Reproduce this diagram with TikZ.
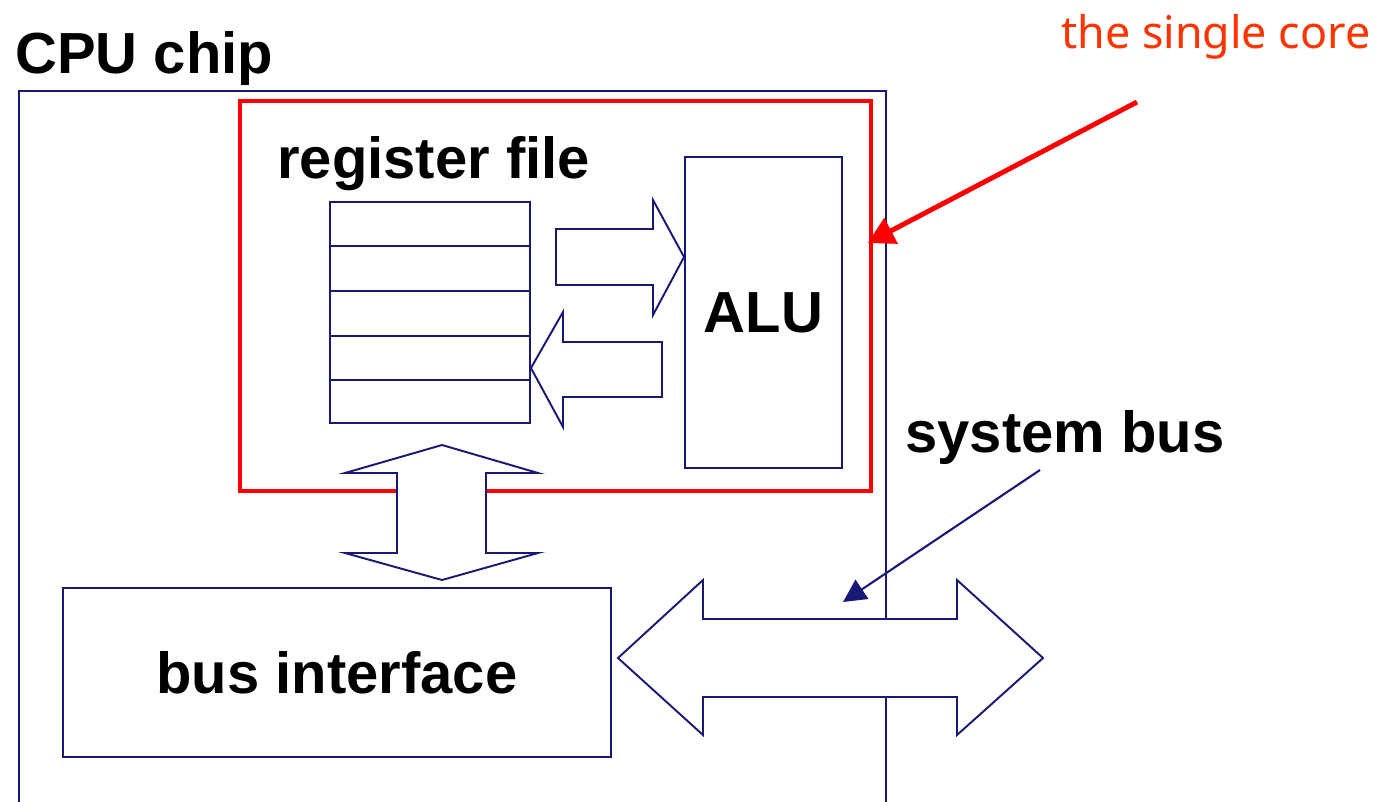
\documentclass[tikz,border=0pt]{standalone}
\usepackage{fontspec}
\setmainfont{Liberation Sans}
\newfontfamily\notefont{Noto Sans}
\usetikzlibrary{arrows.meta,positioning}
\definecolor{chipnavy}{RGB}{24,24,118}
\definecolor{corered}{RGB}{255,0,0}
\definecolor{noteorange}{RGB}{255,51,0}

\begin{document}
\begin{tikzpicture}[
      x=0.02cm, y=-0.02cm,
      lbl/.style={font=\bfseries\fontsize{33}{36}\selectfont, inner sep=0pt},
      unit/.style={draw=chipnavy, line width=1.1pt, inner sep=0pt},
      blockarrow/.style={draw=chipnavy, line width=1.1pt, fill=white, line join=miter},
      pointer/.style={-{Triangle[length=13pt,width=13pt]}, line width=1.2pt, color=chipnavy}
    ]
      \useasboundingbox (0,0) rectangle (1381,801);

      % 1. Chip outline (open at the bottom)
      \draw[chipnavy, line width=1.1pt] (19,810) -- (19,91) -- (886,91) -- (886,810);
      \node[lbl, anchor=base west] (chip) at (15,73) {CPU chip};

      % 2. Core: register file + ALU
      \node[draw=corered, line width=2.3pt, minimum width=631*0.02cm, minimum height=390*0.02cm,
            inner sep=0pt] (core) at (555.5,296) {};
      \node[lbl, anchor=base west] (rflabel) at (277,178) {register file};
      \node[unit, minimum width=4cm, minimum height=221*0.02cm] (regs) at (430,312.5) {};
      \foreach \ry in {246,291,336,380}
        \draw[chipnavy, line width=1.1pt] (regs.west |- 0,\ry) -- (regs.east |- 0,\ry);
      \node[unit, minimum width=157*0.02cm, minimum height=311*0.02cm] (alu) at (763.5,312.5) {};
      \node[lbl] (alulabel) at (alu.center) {ALU};

      % operands in, result back
      \draw[blockarrow] (556,229) -- (653,229) -- (653,200) -- (alu.west |- 0,257)
        -- (653,315) -- (653,285) -- (556,285) -- cycle;
      \draw[blockarrow] (662,342) -- (563,342) -- (563,312) -- (regs.east |- 0,368)
        -- (563,427) -- (563,397) -- (662,397) -- cycle;

      % 3. Bus interface
      \node[unit, minimum width=548*0.02cm, minimum height=169*0.02cm] (busif) at (337,672.5) {};
      \node[lbl] (busiflabel) at (busif.center) {bus interface};

      \draw[blockarrow] (442,445) -- (538,473) -- (486,473) -- (486,553) -- (538,553)
        -- (442,580) -- (345,553) -- (397,553) -- (397,473) -- (345,473) -- cycle;

      % 4. System bus
      \draw[blockarrow] (618,658) -- (703,580) -- (703,619) -- (957,619) -- (957,580)
        -- (1043,658) -- (957,735) -- (957,697) -- (703,697) -- (703,735) -- cycle;
      \node[lbl, anchor=base west] (buslabel) at (905,452) {system bus};
      \coordinate (busstart) at (1040,470);
      \coordinate (bustip) at (843,602);
      \draw[pointer] (busstart) -- (bustip);

      % 5. Note on the core
      \node[anchor=base west, inner sep=0pt, text=noteorange,
            font=\notefont\fontsize{25.5}{28}\selectfont] (note) at (1061,48) {the single core};
      \coordinate (notestart) at (1137,102);
      \draw[-{Triangle[length=15pt,width=16pt]}, line width=2.8pt, corered]
        (notestart) -- ([xshift=-3pt]core.east |- 0,243);
    \end{tikzpicture}
\end{document}
